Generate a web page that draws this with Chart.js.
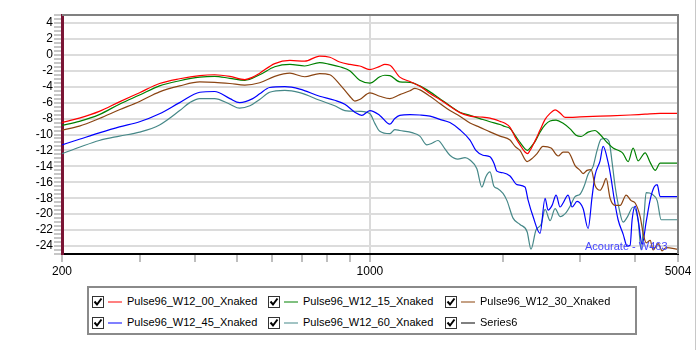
<!DOCTYPE html>
<html>
<head>
<meta charset="utf-8">
<script src="https://cdn.jsdelivr.net/npm/chart.js@4.4.1/dist/chart.umd.min.js"></script>
<style>
  html,body{margin:0;padding:0;background:#fff;}
  body{width:700px;height:350px;position:relative;overflow:hidden;font-family:"Liberation Sans",Arial,sans-serif;}
  #c{position:absolute;left:0;top:0;}
  #legend{position:absolute;left:87px;top:286px;width:546px;height:45px;border:2px solid #8a8a8a;}
  .item{position:absolute;height:14px;}
  .cb{position:absolute;top:1px;width:10px;height:10px;border:1px solid #333;background:#fff;}
  .cb svg{position:absolute;left:0;top:0;}
  .ln{position:absolute;left:16px;top:6px;width:14px;height:2px;}
  .tx{position:absolute;left:35px;top:-1px;font-size:11px;color:#000;white-space:nowrap;line-height:14px;}
  #note{position:absolute;left:585px;top:240px;font-size:11px;color:#4646ff;white-space:nowrap;line-height:13px;}
  #edge{position:absolute;left:695px;top:0;width:1px;height:350px;background:#c8c8c8;}
</style>
</head>
<body>
<canvas id="c" width="700" height="280"></canvas>
<div id="note">Acourate - W463</div>
<div id="legend"></div>
<div id="edge"></div>
<script>
// ---- axis ticks ----
const xTicks = [200,300,400,500,600,700,800,900,1000,2000,3000,4000,5004];
const xLabels = [200,1000,5004];
const yMin = -25, yMax = 5;

// ---- series names / colours ----
const names = ["Pulse96_W12_00_Xnaked","Pulse96_W12_15_Xnaked","Pulse96_W12_30_Xnaked",
               "Pulse96_W12_45_Xnaked","Pulse96_W12_60_Xnaked","Series6"];
const colors = ["#ff0000","#008000","#8b4513","#0000ff","#468888","#404040"];
const legendColors = ["#ff8080","#80c080","#c5a185","#8080ff","#a2c4c4","#808080"];

// ---- Pulse96_W12_00_Xnaked ----
const f00 = [200,219,243,270,300,333,370,411,444,481,520,542,562,608,658,711,769,811,854,900,948,1000,1053,1081,1110,1169,1233,1298,1369,1441,1519,1600,1687,1777,1873,1974,2026,2080,2135,2191,2249,2279,2309,2370,2433,2498,2564,2632,2702,2773,2847,2999,3330,3896,4214,4558,5004];
const db00 = [-8.5,-7.95,-7.1,-5.9,-4.75,-3.6,-3.0,-2.6,-2.5,-2.7,-3.1,-2.8,-2.3,-1.1,-0.7,-0.8,-0.15,-0.3,-0.9,-1.2,-1.4,-1.85,-1.45,-1.2,-1.3,-2.8,-3.35,-3.95,-4.85,-5.6,-6.45,-7.25,-7.7,-7.8,-7.95,-8.35,-8.6,-9.1,-10.3,-11.3,-12.2,-12.4,-12.0,-10.8,-9.45,-8.1,-7.35,-6.9,-7.3,-7.85,-7.85,-7.8,-7.7,-7.55,-7.45,-7.36,-7.36];

// ---- Pulse96_W12_15_Xnaked ----
const f15 = [200,219,243,270,300,333,370,411,444,481,520,562,608,658,711,769,811,854,900,948,1000,1053,1081,1110,1169,1233,1298,1369,1441,1519,1600,1687,1777,1873,1974,2026,2080,2135,2191,2249,2279,2309,2370,2433,2498,2564,2646,2745,2847,2937,3015,3128,3244,3330,3455,3564,3698,3756,3856,3958,4063,4214,4326,4441,4558,5004];
const db15 = [-8.85,-8.35,-7.5,-6.2,-5.05,-3.9,-3.25,-2.8,-2.7,-2.95,-3.2,-2.5,-1.5,-1.2,-1.4,-0.97,-1.2,-1.5,-2.0,-3.2,-3.55,-2.75,-2.56,-2.6,-3.4,-3.45,-3.9,-4.65,-5.5,-6.4,-7.2,-7.6,-8.0,-8.4,-8.75,-9.0,-9.25,-10.1,-11.0,-11.8,-12.0,-11.7,-10.9,-9.7,-8.8,-8.3,-8.2,-8.6,-9.3,-10.1,-10.25,-9.7,-9.5,-10.0,-11.0,-11.7,-12.1,-12.4,-13.4,-11.7,-13.3,-12.3,-13.5,-14.5,-13.6,-13.6];

// ---- Pulse96_W12_30_Xnaked ----
const f30 = [200,219,243,270,300,333,370,411,444,481,520,562,608,658,711,769,811,854,900,924,948,1000,1053,1110,1169,1233,1265,1298,1369,1441,1519,1600,1687,1777,1873,1974,2080,2135,2191,2274,2346,2395,2471,2578,2674,2745,2817,2922,2999,3047,3111,3178,3244,3330,3383,3437,3509,3602,3698,3816,3917,4000,4106,4171,4236,4326,4394,4511,4606,4704,5004];
const db30 = [-9.45,-8.95,-8.0,-6.9,-5.85,-4.65,-3.9,-3.4,-3.45,-3.6,-3.8,-3.5,-2.7,-2.3,-2.75,-2.35,-2.5,-3.7,-5.2,-5.8,-5.6,-4.78,-5.2,-5.5,-5.0,-4.5,-4.2,-4.4,-5.2,-6.1,-7.0,-7.7,-8.55,-9.1,-9.67,-10.2,-10.7,-11.5,-12.0,-13.4,-12.9,-12.4,-11.5,-11.7,-12.7,-12.2,-12.2,-13.9,-14.5,-14.9,-14.5,-14.4,-16.4,-17.0,-16.4,-15.5,-18.0,-18.9,-18.9,-17.6,-18.3,-18.6,-20.3,-22.4,-23.6,-23.3,-24.5,-23.7,-24.6,-24.2,-24.4];

// ---- Pulse96_W12_45_Xnaked ----
const f45 = [200,219,243,270,300,333,370,411,444,481,506,542,562,592,641,693,769,832,877,924,958,1000,1053,1110,1139,1169,1233,1298,1369,1441,1519,1600,1687,1740,1805,1873,1912,1942,2005,2080,2157,2249,2285,2346,2433,2498,2537,2591,2646,2702,2745,2817,2877,2953,3047,3128,3194,3244,3330,3383,3473,3527,3583,3659,3756,3836,3896,3937,4000,4063,4149,4236,4326,4417,4488,4558,5004];
const db45 = [-11.3,-10.6,-9.8,-9.05,-8.4,-7.4,-6.0,-4.7,-4.6,-5.5,-6.0,-5.5,-4.9,-4.1,-4.0,-4.3,-5.2,-5.7,-6.2,-7.2,-7.6,-7.0,-7.6,-8.7,-8.0,-7.6,-7.5,-7.55,-7.7,-8.1,-8.5,-9.4,-10.7,-12.0,-12.6,-12.8,-13.6,-14.6,-14.8,-15.2,-16.3,-16.6,-18.2,-20.3,-22.4,-18.0,-19.5,-18.9,-17.6,-19.1,-18.6,-17.6,-19.1,-18.4,-19.3,-21.8,-17.8,-15.1,-13.3,-11.5,-13.5,-15.5,-18.0,-20.7,-22.5,-24.0,-23.9,-20.7,-19.0,-20.7,-23.8,-21.0,-18.2,-16.6,-16.3,-17.8,-17.8];

// ---- Pulse96_W12_60_Xnaked ----
const f60 = [200,219,243,270,300,333,370,390,411,444,481,506,534,562,592,641,693,769,832,877,948,1000,1026,1053,1110,1139,1169,1252,1298,1347,1383,1427,1480,1519,1583,1644,1687,1749,1795,1833,1873,1912,1952,2005,2047,2113,2191,2274,2321,2382,2446,2498,2564,2632,2702,2788,2847,2922,2999,3063,3128,3211,3278,3347,3419,3491,3546,3602,3678,3756,3836,3958,4063,4128,4193,4236,4371,4488,4582,5004];
const db60 = [-12.4,-11.6,-10.75,-10.2,-9.7,-8.8,-7.0,-6.0,-5.5,-5.5,-6.2,-6.7,-6.4,-5.6,-4.7,-4.45,-4.75,-5.7,-6.4,-7.0,-7.1,-7.4,-8.6,-9.6,-9.9,-9.4,-9.5,-9.8,-10.2,-11.3,-11.1,-10.75,-11.8,-12.6,-13.1,-12.9,-13.2,-14.3,-16.6,-15.3,-14.7,-16.5,-16.8,-17.4,-18.3,-20.5,-21.3,-22.2,-24.4,-22.0,-21.3,-19.4,-20.8,-19.3,-20.3,-19.8,-19.0,-17.8,-17.5,-16.5,-15.0,-14.0,-12.0,-10.6,-10.5,-10.9,-13.5,-16.5,-19.3,-21.0,-20.4,-19.1,-20.8,-24.5,-20.0,-17.3,-17.5,-18.3,-20.7,-20.7];

// ---- Series6 (no visible data) ----
const f6 = [];
const db6 = [];

const freqs = [f00,f15,f30,f45,f60,f6];
const vals  = [db00,db15,db30,db45,db60,db6];

const datasets = names.map((n,i)=>({
  label:n,
  data: freqs[i].map((f,j)=>({x:f, y:vals[i][j]})),
  borderColor: colors[i],
  backgroundColor: colors[i],
  borderWidth: 1.2,
  pointRadius: 0,
  fill: false,
  cubicInterpolationMode: 'monotone'
}));

// frame plugin: grey top & right border of the plot area
const framePlugin = {
  id:'frame',
  afterDraw(chart){
    const {ctx, chartArea:a} = chart;
    ctx.save();
    ctx.strokeStyle = '#808080';
    ctx.lineWidth = 2;
    ctx.beginPath();
    ctx.moveTo(a.left, a.top); ctx.lineTo(a.right, a.top);
    ctx.lineTo(a.right, a.bottom);
    ctx.stroke();
    ctx.restore();
  }
};

const fontAxis = {family:"'Liberation Sans', Arial, sans-serif", size:12};

new Chart(document.getElementById('c').getContext('2d'), {
  type:'line',
  data:{datasets},
  options:{
    responsive:false,
    animation:false,
    layout:{padding:{top:15,right:22,left:0,bottom:0}},
    plugins:{legend:{display:false}, tooltip:{enabled:false}},
    scales:{
      x:{
        type:'logarithmic',
        min:200, max:5004,
        afterBuildTicks:(s)=>{ s.ticks = xTicks.map(v=>({value:v})); },
        afterFit:(s)=>{ s.height = 26; },
        ticks:{
          autoSkip:false, maxRotation:0, minRotation:0,
          padding:2, color:'#000', font:fontAxis,
          callback:(v)=> xLabels.includes(v) ? String(v) : ''
        },
        grid:{
          color:(c)=> (c.tick && c.tick.value===1000) ? '#dadada' : 'rgba(0,0,0,0)',
          lineWidth:2,
          tickColor:'#a8a8a8',
          tickWidth:1.5,
          tickLength:8
        },
        border:{color:'#000', width:2}
      },
      y:{
        min:yMin, max:yMax,
        afterFit:(s)=>{ s.width = 62; },
        ticks:{
          stepSize:0.5, autoSkip:false,
          padding:1, color:'#000', font:fontAxis,
          callback:(v)=> (Number.isInteger(v) && v%2===0 && v>yMin && v<yMax) ? String(v) : ''
        },
        grid:{
          color:(c)=>{ const v=c.tick?c.tick.value:null; return (v!==null && Number.isInteger(v) && v%2===0 && v>yMin && v<yMax) ? '#dcdcdc' : 'rgba(0,0,0,0)'; },
          lineWidth:2,
          tickColor:'#b4b4b4',
          tickWidth:1.5,
          tickLength:8
        },
        border:{color:'#7a1535', width:3}
      }
    }
  },
  plugins:[framePlugin]
});

// ---- HTML legend with check boxes ----
const lg = document.getElementById('legend');
const colX = [3, 179, 356];
const rowY = [7, 28];
names.forEach((n,i)=>{
  const it = document.createElement('div');
  it.className = 'item';
  it.style.left = colX[i%3] + 'px';
  it.style.top = rowY[Math.floor(i/3)] + 'px';
  it.innerHTML = '<div class="cb"><svg width="10" height="10"><polyline points="1.5,4.5 4,7.5 8.5,1.5" fill="none" stroke="#000" stroke-width="2"/></svg></div>'
    + '<div class="ln" style="background:' + legendColors[i] + '"></div>'
    + '<div class="tx">' + n + '</div>';
  lg.appendChild(it);
});
</script>
</body>
</html>
